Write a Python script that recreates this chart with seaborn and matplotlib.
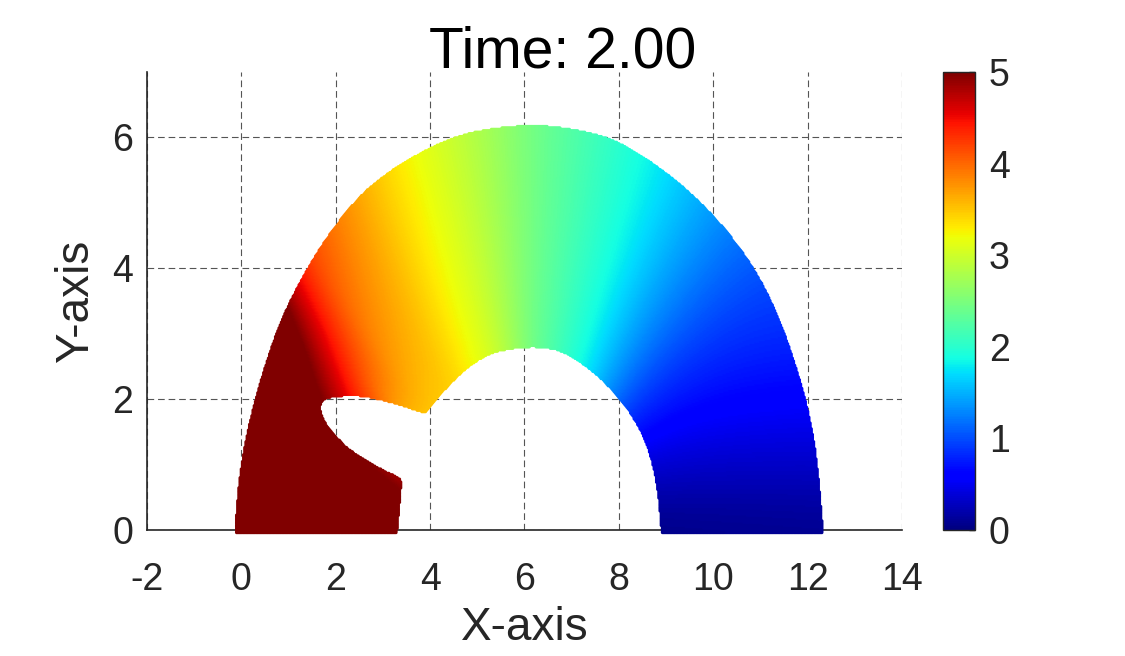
import numpy as np
import pandas as pd
import seaborn as sns
import matplotlib
matplotlib.use("Agg")
import matplotlib.pyplot as plt
from matplotlib.path import Path
from matplotlib.colors import Normalize
from matplotlib.cm import ScalarMappable

# Boundary of the deformed arch (data units)
# outer edge, left foot -> top -> right foot
outer_x = [-0.12, -0.10, -0.03, 0.11, 0.32, 0.57, 0.88, 1.27, 1.77, 2.48, 3.18, 4.00, 4.60,
           5.20, 6.12, 6.89, 7.60, 8.03, 8.73, 9.44, 10.15, 10.85, 11.35, 11.70, 11.95,
           12.13, 12.23, 12.30, 12.32]
outer_y = [-0.05, 0.26, 0.82, 1.43, 2.04, 2.65, 3.26, 3.82, 4.43, 5.09, 5.50, 5.84, 6.02,
           6.12, 6.19, 6.14, 6.03, 5.91, 5.60, 5.20, 4.69, 4.02, 3.31, 2.60, 1.99,
           1.38, 0.77, 0.16, -0.05]
# inner side of the left foot and the notch, foot bottom -> notch tip -> inner arch
notch_x = [3.29, 3.39, 3.36, 2.97, 2.62, 2.33, 2.12, 1.91, 1.77, 1.68, 1.66, 1.73, 1.91,
           2.48, 3.18, 3.89]
notch_y = [-0.05, 0.71, 0.79, 0.92, 1.07, 1.20, 1.33, 1.51, 1.63, 1.79, 1.89, 1.99, 2.04,
           2.07, 1.96, 1.79]
# inner arch, left -> right
inner_x = [3.89, 4.17, 4.49, 4.84, 5.20, 5.55, 6.12, 6.61, 6.96, 7.32, 7.67, 8.03, 8.32,
           8.58, 8.76, 8.86, 8.91]
inner_y = [1.79, 2.04, 2.29, 2.52, 2.68, 2.76, 2.81, 2.78, 2.68, 2.50, 2.29, 2.00, 1.72,
           1.36, 0.92, 0.45, -0.05]

# field along the arch: angle seen from the arch centre (deg), value at mid radius
# and its change per unit of radius
arch_center = (6.15, 0.0)
angle_knots = [0, 10, 25, 40, 52, 65, 80, 90, 100, 110, 118, 126, 135, 143, 147, 151,
               155, 160, 180]
value_mid = [0.05, 0.25, 0.6, 0.95, 1.35, 1.8, 2.2, 2.45, 2.8, 3.1, 3.3, 3.57, 3.75,
             3.97, 4.3, 4.45, 4.75, 5.2, 5.5]
value_slope = [0, 0.05, 0.09, 0.05, 0.02, 0, 0, 0, 0, 0, 0.03, 0.07, 0.15, 0.26, 0.5,
               0.7, 0.5, 0.3, 0]
mid_radius = 4.5

x_ticks = [-2, 0, 2, 4, 6, 8, 10, 12, 14]
y_ticks = [0, 2, 4, 6]
cbar_ticks = [0, 1, 2, 3, 4, 5]


def rounded(xs, ys, passes=3):
    # corner cutting so the read-off outline is drawn as a smooth curve
    p = np.column_stack([xs, ys]).astype(float)
    for _ in range(passes):
        q = 0.75 * p[:-1] + 0.25 * p[1:]
        r = 0.25 * p[:-1] + 0.75 * p[1:]
        mid = np.empty((2 * len(q), 2))
        mid[0::2], mid[1::2] = q, r
        p = np.vstack([p[:1], mid, p[-1:]])
    return p


def smooth_profile(knots, values, width=6.0):
    fine = np.arange(-30, 210.5, 0.5)
    prof = np.interp(fine, knots, values)
    n = int(width / 0.5)
    prof = np.convolve(np.pad(prof, n, mode="edge"), np.ones(2 * n + 1) / (2 * n + 1), "same")[n:-n]
    return fine, prof


# sample points filling the body
poly = np.vstack([
    rounded(outer_x[::-1], outer_y[::-1]),
    rounded(notch_x, notch_y, passes=2),
    rounded(inner_x, inner_y),
])
body = Path(poly)
gx, gy = np.meshgrid(np.arange(-0.15, 12.4, 0.025), np.arange(-0.06, 6.25, 0.022))
pts = np.column_stack([gx.ravel(), gy.ravel()])
pts = pts[body.contains_points(pts)]

dx = pts[:, 0] - arch_center[0]
dy = np.maximum(pts[:, 1] - arch_center[1], 0.0)
theta = np.degrees(np.arctan2(dy, dx))
rad = np.hypot(dx, dy)
th_fine, mid_fine = smooth_profile(angle_knots, value_mid)
_, slope_fine = smooth_profile(angle_knots, value_slope)
u = np.interp(theta, th_fine, mid_fine) + np.interp(theta, th_fine, slope_fine) * (rad - mid_radius)
df = pd.DataFrame({"x": pts[:, 0], "y": pts[:, 1], "u": np.clip(u, 0, 5)})

sns.set_style("white")
plt.rcParams["font.family"] = ["Liberation Sans", "DejaVu Sans"]
txt = "#262626"
jet = matplotlib.colormaps["jet"]

fig = plt.figure(figsize=(11.25, 6.56), dpi=100)
ax = fig.add_axes([147 / 1125, 126 / 656, 755 / 1125, 458 / 656])
cax = fig.add_axes([943 / 1125, 126 / 656, 32 / 1125, 458 / 656])

sns.scatterplot(data=df, x="x", y="y", hue="u", palette=jet, hue_norm=(0, 5),
                s=6, linewidth=0, marker="o", legend=False, ax=ax,
                zorder=3, clip_on=False)

ax.set_xlim(-2, 14)
ax.set_ylim(0, 7)
ax.set_xticks(x_ticks)
ax.set_yticks(y_ticks)
ax.set_xticklabels([str(t) for t in x_ticks])
ax.grid(True, color="#555555", linestyle=(0, (6, 3.5)), linewidth=0.8)
ax.set_axisbelow(True)
for side in ["top", "right"]:
    ax.spines[side].set_visible(False)
for side in ["left", "bottom"]:
    ax.spines[side].set_color(txt)
    ax.spines[side].set_linewidth(1.2)
ax.tick_params(direction="in", length=5, width=1, colors=txt, labelsize=27)
ax.tick_params(axis="x", pad=23)
ax.tick_params(axis="y", pad=10)
ax.set_xlabel("X-axis", fontsize=33, color=txt, labelpad=6)
ax.set_ylabel("Y-axis", fontsize=33, color=txt, labelpad=10)

sm = ScalarMappable(norm=Normalize(0, 5), cmap=jet)
cb = fig.colorbar(sm, cax=cax, ticks=cbar_ticks)
cb.outline.set_linewidth(1)
cb.outline.set_edgecolor(txt)
cax.tick_params(direction="in", length=4, width=1, colors=txt, labelsize=27, pad=10)

fig.text(0.5, 1 - 52 / 656, "Time: 2.00", fontsize=41, ha="center", va="center", color="black")

fig.savefig("out.png", dpi=100)
